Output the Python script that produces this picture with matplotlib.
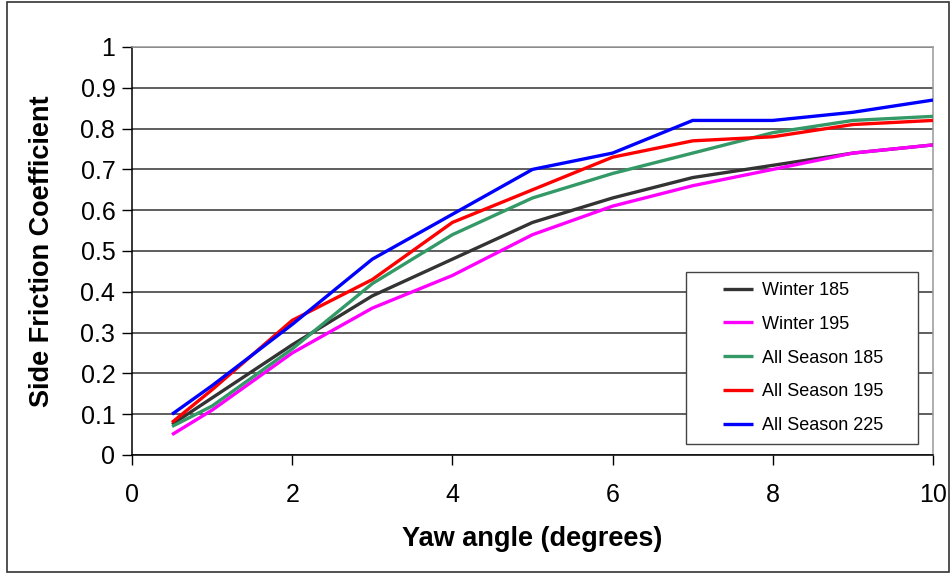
import matplotlib
matplotlib.use("Agg")
import matplotlib.pyplot as plt
from matplotlib.patches import Rectangle

x = [0.5, 1, 2, 3, 4, 5, 6, 7, 8, 9, 10]
winter_185 = [0.075, 0.14, 0.27, 0.39, 0.48, 0.57, 0.63, 0.68, 0.71, 0.74, 0.76]
winter_195 = [0.05, 0.11, 0.25, 0.36, 0.44, 0.54, 0.61, 0.66, 0.70, 0.74, 0.76]
all_season_185 = [0.07, 0.12, 0.26, 0.42, 0.54, 0.63, 0.69, 0.74, 0.79, 0.82, 0.83]
all_season_195 = [0.08, 0.16, 0.33, 0.43, 0.57, 0.65, 0.73, 0.77, 0.78, 0.81, 0.82]
all_season_225 = [0.10, 0.17, 0.32, 0.48, 0.59, 0.70, 0.74, 0.82, 0.82, 0.84, 0.87]

series = [
    ("Winter 185", winter_185, "#333333"),
    ("Winter 195", winter_195, "#FF00FF"),
    ("All Season 185", all_season_185, "#339966"),
    ("All Season 195", all_season_195, "#FF0000"),
    ("All Season 225", all_season_225, "#0000FF"),
]

plt.rcParams['font.family'] = ['Liberation Sans', 'DejaVu Sans']

fig = plt.figure(figsize=(9.51, 5.74), dpi=100)
ax = fig.add_axes([132/951, 1-455/574, (933-132)/951, (455-47)/574])

for label, vals, color in series:
    ax.plot(x, vals, color=color, lw=2.4, label=label, solid_capstyle='butt', zorder=3)

ax.set_xlim(0, 10)
ax.set_ylim(0, 1)
ax.set_xticks([0, 2, 4, 6, 8, 10])
ax.set_yticks([i/10 for i in range(11)])
ax.set_yticklabels(["0", "0.1", "0.2", "0.3", "0.4", "0.5", "0.6", "0.7", "0.8", "0.9", "1"])
ax.tick_params(axis='both', labelsize=18, direction='out', length=7, width=1, color='black')
ax.tick_params(axis='x', pad=13)
ax.tick_params(axis='y', pad=5)
ax.yaxis.grid(True, color='#333333', lw=1.1)
ax.set_axisbelow(True)
for side in ['left', 'bottom']:
    ax.spines[side].set_color('black')
    ax.spines[side].set_linewidth(1.1)
for side in ['top', 'right']:
    ax.spines[side].set_color('#999999')
    ax.spines[side].set_linewidth(1.1)

fig.text(532/951, 1-539/574, "Yaw angle (degrees)", ha='center', va='center',
         fontsize=19.5, fontweight='bold')
fig.text(42/951, 1-251/574, "Side Friction Coefficient", ha='center', va='center',
         rotation=90, fontsize=19.5, fontweight='bold')

# legend frame drawn separately to match the wide padding of the original
frame = Rectangle((686/951, 1-444/574), (918-686)/951, (444-272)/574,
                  transform=fig.transFigure, facecolor='white',
                  edgecolor='#444444', lw=1.0, zorder=5, clip_on=False)
ax.add_patch(frame)
leg = ax.legend(loc='upper left', bbox_to_anchor=(723/951, 1-282/574),
                bbox_transform=fig.transFigure, fontsize=13, frameon=False,
                handlelength=1.66, handletextpad=0.5, labelspacing=0.93,
                borderpad=0, borderaxespad=0)
leg.set_zorder(10)

fig.patches.append(Rectangle((7/951, 2/574), (949-7)/951, (572-2)/574,
                             transform=fig.transFigure, fill=False,
                             edgecolor='#333333', lw=1.2))

fig.savefig("out.png", dpi=100)
